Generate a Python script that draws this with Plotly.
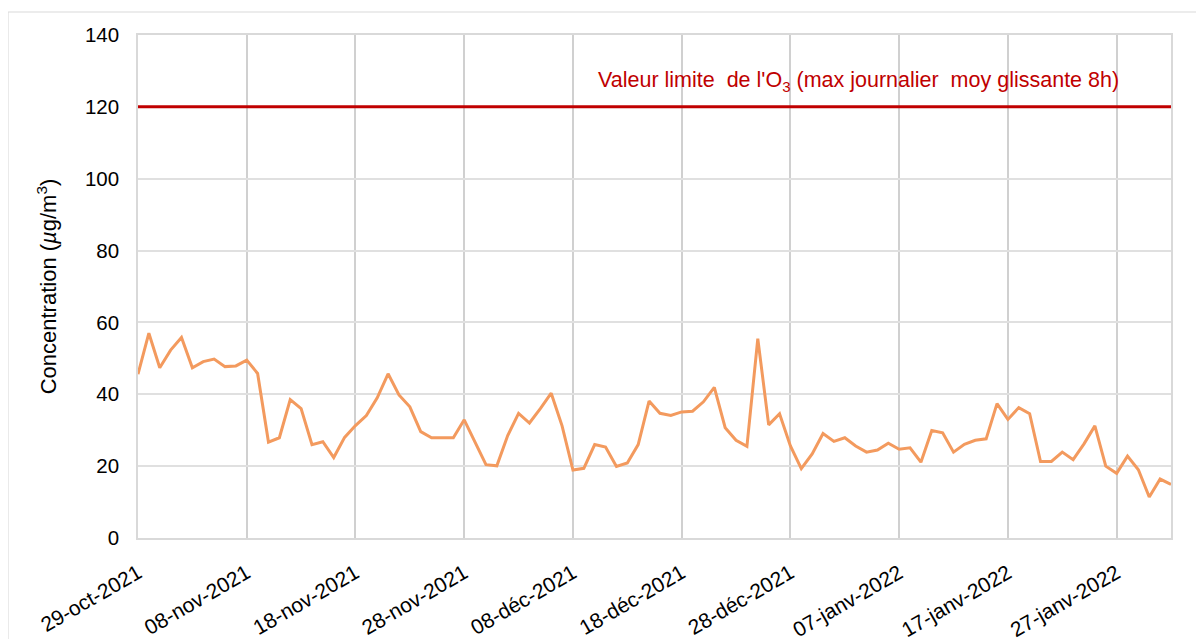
import pandas as pd
import plotly.graph_objects as go

# ── Data ──
START_DATE = "2021-10-29"
O3_VALUES = [
    45.6, 57.0, 47.4, 52.3, 55.8, 47.4, 49.1, 49.8, 47.7, 47.9,
    49.5, 45.8, 26.7, 27.9, 38.5, 36.0, 26.0, 26.8, 22.4, 28.0,
    31.3, 34.1, 39.0, 45.7, 39.8, 36.5, 29.6, 27.9, 27.9, 27.9,
    32.9, 26.6, 20.4, 20.1, 28.5, 34.7, 32.0, 36.0, 40.3, 31.2,
    18.9, 19.4, 26.0, 25.3, 19.9, 20.9, 26.0, 38.1, 34.7, 34.1,
    35.1, 35.3, 37.9, 41.9, 30.7, 27.2, 25.5, 55.5, 31.5, 34.6,
    25.6, 19.3, 23.4, 29.1, 26.9, 27.9, 25.6, 23.9, 24.5, 26.4,
    24.7, 25.1, 21.1, 29.9, 29.3, 23.9, 26.1, 27.2, 27.6, 37.4,
    33.0, 36.3, 34.6, 21.3, 21.3, 23.9, 21.8, 26.2, 31.2, 20.0,
    18.0, 22.8, 19.0, 11.4, 16.4, 14.9,
]
LIMIT_VALUE = 120
TICK_DATES = [
    "2021-10-29", "2021-11-08", "2021-11-18", "2021-11-28", "2021-12-08",
    "2021-12-18", "2021-12-28", "2022-01-07", "2022-01-17", "2022-01-27",
]
TICK_LABELS = [
    "29-oct-2021", "08-nov-2021", "18-nov-2021", "28-nov-2021", "08-déc-2021",
    "18-déc-2021", "28-déc-2021", "07-janv-2022", "17-janv-2022", "27-janv-2022",
]
Y_TICKS = [0, 20, 40, 60, 80, 100, 120, 140]

COLORS = {
    "line": "#F39A5E",
    "limit": "#C00000",
    "grid_v": "#D0D0D0",
    "grid_h": "#E0E0E0",
    "text": "#000000",
}
FONT = "Liberation Sans, Arial, Helvetica, sans-serif"

dates = pd.date_range(START_DATE, periods=len(O3_VALUES), freq="D")

fig = go.Figure()

# ── Limit line ──
fig.add_trace(go.Scatter(
    x=[dates[0], dates[-1]], y=[LIMIT_VALUE, LIMIT_VALUE],
    mode="lines",
    line=dict(color=COLORS["limit"], width=3),
    showlegend=False, hoverinfo="skip",
))

# ── O3 series ──
fig.add_trace(go.Scatter(
    x=dates, y=O3_VALUES,
    mode="lines",
    line=dict(color=COLORS["line"], width=3),
    showlegend=False,
))

fig.add_annotation(
    x=0.952, xref="paper", xanchor="right",
    y=127, yref="y", yanchor="middle",
    text="Valeur limite  de l'O<sub>3</sub> (max journalier  moy glissante 8h)",
    showarrow=False,
    font=dict(size=21.5, color=COLORS["limit"], family=FONT),
)

# ── Outer frame (left/top visible only) ──
fig.add_shape(
    type="rect", xref="paper", yref="paper",
    x0=-0.1258, x1=1.2, y0=-0.3, y1=1.0457,
    line=dict(color="#D9D9D9", width=1),
    layer="below",
)

fig.update_layout(
    width=1204, height=639,
    margin=dict(l=130, r=41, t=27, b=109),
    paper_bgcolor="#FFFFFF",
    plot_bgcolor="#FFFFFF",
    font=dict(family=FONT, color=COLORS["text"], size=20),
    showlegend=False,
)

fig.update_xaxes(
    range=[dates[0], dates[-1]],
    tickvals=list(pd.to_datetime(TICK_DATES)),
    ticktext=TICK_LABELS,
    tickangle=-30,
    tickfont=dict(size=21),
    showgrid=True, gridcolor=COLORS["grid_v"], gridwidth=1.5,
    zeroline=False,
    showline=True, linecolor="#D9D9D9", linewidth=1.5, mirror=True,
    ticks="outside", ticklen=13, tickcolor="rgba(0,0,0,0)",
    automargin=False,
)
fig.update_yaxes(
    range=[0, 140],
    tickvals=Y_TICKS,
    tickfont=dict(size=20.5),
    showgrid=True, gridcolor=COLORS["grid_h"], gridwidth=1.5,
    zeroline=False,
    showline=True, linecolor="#D9D9D9", linewidth=1.5, mirror=True,
    ticks="outside", ticklen=13, tickcolor="rgba(0,0,0,0)",
    automargin=False,
    title=dict(
        text="Concentration (<i>µ</i>g/m<sup>3</sup>)",
        font=dict(size=22),
        standoff=22,
    ),
)

fig.write_html("out.html")
